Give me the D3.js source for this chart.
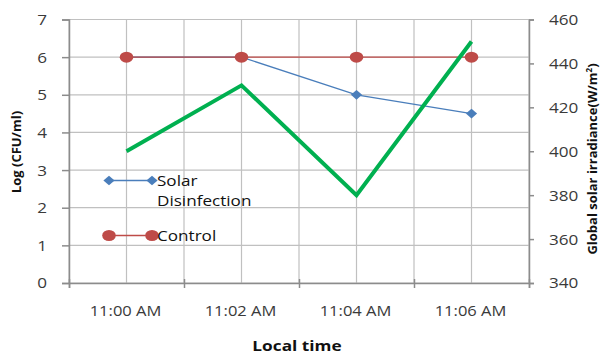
<!DOCTYPE html>
<html>
<head>
<meta charset="utf-8">
<script src="https://cdn.jsdelivr.net/npm/d3@7"></script>
<style>
  html, body { margin: 0; padding: 0; background: #fff; }
  svg { display: block; font-family: "Open Sans", "Liberation Sans", sans-serif; }
</style>
</head>
<body>
<svg id="chart" width="600" height="356"></svg>
<script>
// Sampling times (minutes after 11:00) and their labels
const times = [0, 2, 4, 6];
const timeLabels = ["11:00 AM", "11:02 AM", "11:04 AM", "11:06 AM"];

// Bacterial counts, log(CFU/ml)
const solarDisinfection = [6, 6, 5, 4.5];
const control = [6, 6, 6, 6];

// Global solar irradiance, W/m²
const irradiance = [400, 430, 380, 450];

// Axis ticks
const leftTicks = [0, 1, 2, 3, 4, 5, 6, 7];
const rightTicks = [340, 360, 380, 400, 420, 440, 460];

const svg = d3.select("#chart");
const plot = { left: 69, right: 529, top: 19.5, bottom: 283 };

const x = d3.scaleLinear().domain([-1, 7]).range([plot.left, plot.right]);
const yL = d3.scaleLinear().domain([0, 7]).range([plot.bottom, plot.top]);
const yR = d3.scaleLinear().domain([340, 460]).range([plot.bottom, plot.top]);

const gridColor = "#c0c0c0";
const axisColor = "#8c8c8c";
const textColor = "#3a3a3a";
const STRETCH = 1.18; // wide lettering

// Places a horizontally widened text label at (px, py)
function label(parent, px, py, str, opts = {}) {
  return parent.append("text")
    .attr("transform", `translate(${px},${py}) scale(${opts.k || STRETCH},1)`)
    .attr("text-anchor", opts.anchor || "start")
    .attr("dominant-baseline", opts.baseline || "auto")
    .attr("font-size", opts.size || 14.5)
    .attr("font-weight", opts.weight || "normal")
    .attr("fill", opts.fill || textColor)
    .text(str);
}

// Grid: one vertical line per minute, one horizontal per log unit
const g = svg.append("g");
g.selectAll("line.v").data(d3.range(-1, 8)).join("line")
  .attr("x1", d => x(d)).attr("x2", d => x(d))
  .attr("y1", plot.top).attr("y2", plot.bottom)
  .attr("stroke", gridColor).attr("stroke-width", 1.2);
g.selectAll("line.h").data(leftTicks).join("line")
  .attr("x1", plot.left).attr("x2", plot.right)
  .attr("y1", d => yL(d)).attr("y2", d => yL(d))
  .attr("stroke", gridColor).attr("stroke-width", 1.2);

// Axes (lines and tick marks; labels are drawn separately)
const leftAxis = svg.append("g").attr("transform", `translate(${plot.left},0)`)
  .call(d3.axisLeft(yL).tickValues(leftTicks).tickSize(7).tickFormat(""));
const rightAxis = svg.append("g").attr("transform", `translate(${plot.right},0)`)
  .call(d3.axisRight(yR).tickValues(rightTicks).tickSize(5).tickFormat(""));
const bottomAxis = svg.append("g").attr("transform", `translate(0,${plot.bottom})`)
  .call(d3.axisBottom(x).tickValues([-1, 1, 3, 5, 7]).tickSize(5).tickFormat(""));
bottomAxis.selectAll(".tick line").attr("y1", -4);

[leftAxis, rightAxis, bottomAxis].forEach(a => {
  a.select(".domain").attr("stroke", axisColor).attr("stroke-width", 1.5);
  a.selectAll(".tick line").attr("stroke", axisColor).attr("stroke-width", 1.5);
});

// Tick labels
const labels = svg.append("g");
leftTicks.forEach(t => label(labels, 47, yL(t), d3.format("d")(t),
  { anchor: "end", baseline: "central", size: 14.5 }));
rightTicks.forEach(t => label(labels, 549, yR(t), d3.format("d")(t),
  { anchor: "start", baseline: "central", size: 14.5 }));
times.forEach((t, i) => label(labels, x(t) - 1, 316, timeLabels[i],
  { anchor: "middle", size: 14 }));

// Axis titles
label(svg, 297, 351, "Local time",
  { anchor: "middle", size: 15, weight: "bold", fill: "#111", k: 1.15 });
svg.append("text").attr("transform", "translate(21,152) rotate(-90)")
  .attr("text-anchor", "middle").attr("font-size", 13).attr("font-weight", "bold")
  .attr("fill", "#111").text("Log (CFU/ml)");
const rt = svg.append("text").attr("transform", "translate(597,159) rotate(-90)")
  .attr("text-anchor", "middle").attr("font-size", 13).attr("font-weight", "bold")
  .attr("fill", "#111");
rt.append("tspan").text("Global solar irradiance(W/m");
rt.append("tspan").attr("font-size", 8).attr("dy", -5).text("2");
rt.append("tspan").attr("dy", 5).text(")");

const blue = "#4a7ebb";
const red = "#be4b48";
const green = "#00b050";

// Diamond marker as a rotated square
const diamond = d3.symbol().type(d3.symbolSquare).size(52);
const diamondAt = (px, py) => `translate(${px},${py}) scale(1.1,0.95) rotate(45)`;

// Solar disinfection series
const lineL = d3.line().x((d, i) => x(times[i])).y(d => yL(d));
svg.append("path").datum(solarDisinfection).attr("d", lineL)
  .attr("fill", "none").attr("stroke", blue).attr("stroke-width", 1.3);
svg.append("g").selectAll("path").data(solarDisinfection).join("path")
  .attr("transform", (d, i) => diamondAt(x(times[i]), yL(d)))
  .attr("d", diamond).attr("fill", blue);

// Control series
svg.append("path").datum(control).attr("d", lineL)
  .attr("fill", "none").attr("stroke", red).attr("stroke-width", 1.3);
svg.append("g").selectAll("ellipse").data(control).join("ellipse")
  .attr("cx", (d, i) => x(times[i])).attr("cy", d => yL(d))
  .attr("rx", 6.8).attr("ry", 5.5).attr("fill", red);

// Irradiance series on the right axis
const lineR = d3.line().x((d, i) => x(times[i])).y(d => yR(d));
svg.append("path").datum(irradiance).attr("d", lineR)
  .attr("fill", "none").attr("stroke", green).attr("stroke-width", 4)
  .attr("stroke-linejoin", "miter");

// Legend
const legend = svg.append("g");
legend.append("line").attr("x1", 109).attr("x2", 152).attr("y1", 180.5).attr("y2", 180.5)
  .attr("stroke", blue).attr("stroke-width", 1.3);
legend.selectAll("path.m").data([109, 152]).join("path")
  .attr("transform", d => diamondAt(d, 180.5))
  .attr("d", diamond).attr("fill", blue);
legend.append("line").attr("x1", 109).attr("x2", 152).attr("y1", 235.5).attr("y2", 235.5)
  .attr("stroke", red).attr("stroke-width", 1.3);
legend.selectAll("ellipse").data([109, 152]).join("ellipse")
  .attr("cx", d => d).attr("cy", 235.5).attr("rx", 6.8).attr("ry", 5.5).attr("fill", red);
label(legend, 157, 186, "Solar", { size: 14.5, fill: "#111" });
label(legend, 157, 206, "Disinfection", { size: 14.5, fill: "#111" });
label(legend, 157, 241, "Control", { size: 14.5, fill: "#111" });
</script>
</body>
</html>
